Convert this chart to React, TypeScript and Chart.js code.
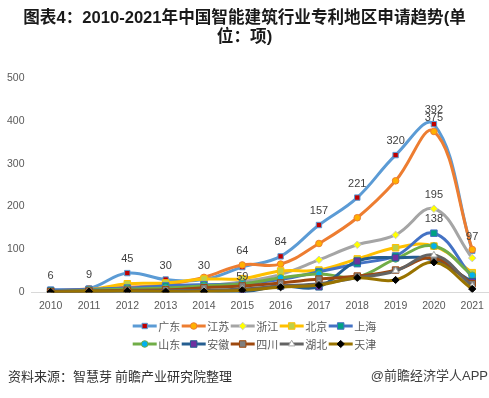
import React, { useEffect, useRef } from 'react';
import { Chart, registerables } from 'chart.js';
import { drawPoint } from 'chart.js/helpers';

Chart.register(...registerables);

const years = ['2010', '2011', '2012', '2013', '2014', '2015', '2016', '2017', '2018', '2019', '2020', '2021'];
const seriesNames = ['广东', '江苏', '浙江', '北京', '上海', '山东', '安徽', '四川', '湖北', '天津'];
const guangdong = [6, 9, 45, 30, 30, 59, 84, 157, 221, 320, 392, 97];
const jiangsu = [3, 8, 12, 18, 35, 64, 66, 114, 174, 260, 375, 100];
const zhejiang = [2, 5, 8, 10, 15, 25, 42, 76, 111, 134, 195, 80];
const beijing = [3, 6, 20, 22, 31, 32, 50, 52, 78, 104, 108, 46];
const shanghai = [5, 7, 10, 15, 18, 20, 30, 48, 67, 85, 138, 35];
const shandong = [2, 5, 8, 10, 15, 20, 34, 43, 36, 78, 108, 40];
const anhui = [1, 2, 2, 1, 3, 1, 15, 13, 73, 81, 75, 25];
const sichuan = [2, 3, 5, 6, 11, 15, 22, 31, 38, 52, 80, 20];
const hubei = [1, 2, 3, 4, 5, 8, 15, 20, 34, 50, 87, 15];
const tianjin = [1, 2, 3, 2, 2, 5, 12, 17, 34, 29, 70, 8];
const yTicks = [0, 100, 200, 300, 400, 500];

// which points carry a value label (series index -> point indices)
const labelledPoints: Record<number, number[]> = {
  0: [0, 1, 2, 3, 4, 5, 6, 7, 8, 9, 10, 11],
  1: [5, 10],
  2: [10],
  4: [10],
};
const labelsBelow: Record<number, number[]> = { 0: [5] };

const titleLines = ['图表4：2010-2021年中国智能建筑行业专利地区申请趋势(单', '位：项)'];
const sourceText = '资料来源：智慧芽 前瞻产业研究院整理';
const brandText = '@前瞻经济学人APP';

const allSeries = [guangdong, jiangsu, zhejiang, beijing, shanghai, shandong, anhui, sichuan, hubei, tianjin];

const styles = [
  { line: '#5B9BD5', fill: '#C00000', border: '#5B9BD5', shape: 'rect', r: 3.8 },
  { line: '#ED7D31', fill: '#FFB000', border: '#ED7D31', shape: 'circle', r: 3.3 },
  { line: '#A5A5A5', fill: '#FFFF00', border: '#C8C8C8', shape: 'rectRot', r: 3.8 },
  { line: '#FFC000', fill: '#BFD048', border: '#FFC000', shape: 'rect', r: 4.6 },
  { line: '#4472C4', fill: '#00A383', border: '#4472C4', shape: 'rect', r: 4.6 },
  { line: '#70AD47', fill: '#00B0F0', border: '#70AD47', shape: 'circle', r: 3.3 },
  { line: '#255E91', fill: '#7030A0', border: '#255E91', shape: 'rect', r: 4.6 },
  { line: '#9E480E', fill: '#7F7F7F', border: '#9E480E', shape: 'rect', r: 4.6 },
  { line: '#636363', fill: '#FFFFFF', border: '#A5A5A5', shape: 'triangle', r: 3.8 },
  { line: '#997300', fill: '#000000', border: '#000000', shape: 'rectRot', r: 3.6 },
];

const numFont = '"Liberation Sans", Arial, sans-serif';
const cjkFont = '"Liberation Sans", "Noto Sans CJK SC", sans-serif';

const extrasPlugin = {
  id: 'extras',
  afterDatasetsDraw(chart: any) {
    const ctx = chart.ctx;
    ctx.save();
    ctx.font = '11px ' + numFont;
    ctx.fillStyle = '#404040';
    ctx.textAlign = 'center';
    ctx.textBaseline = 'middle';
    Object.keys(labelledPoints).forEach((k) => {
      const di = Number(k);
      const meta = chart.getDatasetMeta(di);
      labelledPoints[di].forEach((pi) => {
        const el = meta.data[pi];
        if (!el) return;
        const below = (labelsBelow[di] || []).includes(pi);
        const v = allSeries[di][pi];
        ctx.fillText(String(v), el.x, below ? el.y + 10 : el.y - 14);
      });
    });
    ctx.restore();
  },
  afterDraw(chart: any) {
    const ctx = chart.ctx;
    ctx.save();
    // legend
    const startX = 132.7;
    const step = 49;
    const rowsY = [326, 344];
    ctx.font = '11px "Noto Sans CJK SC", sans-serif';
    ctx.textBaseline = 'middle';
    ctx.textAlign = 'left';
    seriesNames.forEach((name, i) => {
      const row = Math.floor(i / 5);
      const col = i % 5;
      const x = startX + col * step;
      const y = rowsY[row];
      const s = styles[i];
      ctx.strokeStyle = s.line;
      ctx.lineWidth = 3;
      ctx.beginPath();
      ctx.moveTo(x, y);
      ctx.lineTo(x + 24, y);
      ctx.stroke();
      ctx.fillStyle = s.fill;
      ctx.strokeStyle = s.border;
      ctx.lineWidth = 1;
      drawPoint(ctx, { pointStyle: s.shape, radius: s.r, rotation: 0, borderWidth: 1 } as any, x + 12, y);
      ctx.fillStyle = '#595959';
      ctx.fillText(name, x + 25.5, y + 0.5);
    });
    // footer
    ctx.font = '13px "Noto Sans CJK SC", sans-serif';
    ctx.fillStyle = '#333333';
    ctx.textAlign = 'left';
    ctx.fillText(sourceText, 8, 376);
    ctx.font = '13px ' + cjkFont;
    ctx.fillStyle = '#404040';
    ctx.textAlign = 'right';
    ctx.fillText(brandText, 488, 376);
    ctx.restore();
  },
};

export default function App() {
  const ref = useRef<HTMLCanvasElement>(null);
  useEffect(() => {
    document.body.style.margin = '0';
    const canvas = ref.current;
    if (!canvas) return;
    const chart = new Chart(canvas, {
      type: 'line',
      data: {
        labels: years,
        datasets: allSeries.map((d, i) => ({
          label: seriesNames[i],
          data: d,
          borderColor: styles[i].line,
          backgroundColor: styles[i].fill,
          borderWidth: 3,
          tension: 0.4,
          pointStyle: styles[i].shape as any,
          pointRadius: styles[i].r,
          pointBackgroundColor: styles[i].fill,
          pointBorderColor: styles[i].border,
          pointBorderWidth: 1,
          order: allSeries.length - i,
          fill: false,
        })),
      },
      options: {
        responsive: false,
        animation: false,
        events: [],
        layout: { padding: { left: 0, right: 0, top: 0, bottom: 79 } },
        plugins: {
          legend: { display: false },
          tooltip: { enabled: false },
          title: {
            display: true,
            text: titleLines,
            color: '#1a1a1a',
            font: { size: 16.6, weight: 'bold', family: cjkFont, lineHeight: 1.2 },
            padding: { top: 8, bottom: 30 },
            // title centred on the visible 489px area
            align: 'start',
          },
        },
        scales: {
          x: {
            offset: true,
            grid: { display: false, drawTicks: false },
            border: { display: true, color: '#D9D9D9', width: 1 },
            ticks: { color: '#595959', font: { size: 10.5, family: numFont }, padding: 7, maxRotation: 0, autoSkip: false },
          },
          y: {
            min: yTicks[0],
            max: yTicks[yTicks.length - 1],
            afterBuildTicks: (axis: any) => {
              axis.ticks = yTicks.map((v) => ({ value: v }));
            },
            grid: { display: false, drawTicks: false },
            border: { display: false },
            ticks: { color: '#595959', font: { size: 10.5, family: numFont }, padding: 7 },
          },
        },
      },
      plugins: [
        extrasPlugin,
        {
          id: 'titleCentre',
          beforeDraw(chart: any) {
            const t = chart.titleBlock;
            if (t) {
              t.left = 0;
              t.right = 489;
              t.width = 489;
              t.options.align = 'center';
            }
          },
        },
      ],
    });
    return () => chart.destroy();
  }, []);
  return (
    <div style={{ width: 489, height: 398, overflow: 'hidden', position: 'relative' }}>
      <canvas ref={ref} width={497} height={398} style={{ display: 'block' }} />
    </div>
  );
}
